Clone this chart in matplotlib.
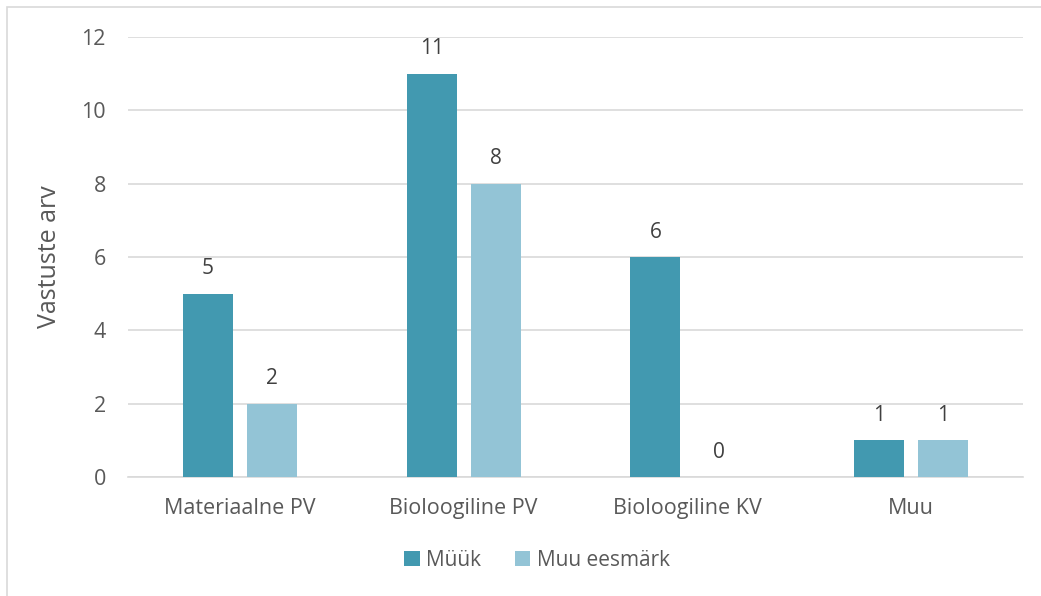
import matplotlib
matplotlib.use("Agg")
import matplotlib.pyplot as plt
from matplotlib.patches import Rectangle
import numpy as np

categories = ["Materiaalne PV", "Bioloogiline PV", "Bioloogiline KV", "Muu"]
muuk = [5, 11, 6, 1]
muu_eesmark = [2, 8, 0, 1]
series_names = ["Müük", "Muu eesmärk"]
y_ticks = [0, 2, 4, 6, 8, 10, 12]

plt.rcParams["font.family"] = ["Open Sans", "DejaVu Sans"]
TEXT = "#595959"
VALUE = "#404040"
GRID = "#D9D9D9"
C1 = "#4299B0"
C2 = "#93C4D6"

W, H = 1041, 596
fig = plt.figure(figsize=(W / 100, H / 100), dpi=100)

# thin frame around the chart area
fig.patches.append(Rectangle((7 / W, -0.1), 1.2, 1 - 7 / H + 0.1,
                             transform=fig.transFigure, fill=False,
                             edgecolor=GRID, linewidth=1.2))

ax = fig.add_axes([128 / W, 1 - 477 / H, (1023 - 128) / W, (477 - 37) / H])

x = np.arange(len(categories))
bw = 0.223
off = 0.143
b1 = ax.bar(x - off, muuk, bw, color=C1, label=series_names[0], zorder=3)
b2 = ax.bar(x + off, muu_eesmark, bw, color=C2, label=series_names[1], zorder=3)

for bars, vals in ((b1, muuk), (b2, muu_eesmark)):
    for rect, v in zip(bars, vals):
        ax.annotate(str(v), (rect.get_x() + rect.get_width() / 2, v),
                    xytext=(0, 18), textcoords="offset points",
                    ha="center", va="center", fontsize=15, color=VALUE)

ax.set_xlim(-0.5, len(categories) - 0.5)
ax.set_ylim(0, 12)
ax.set_yticks(y_ticks)
ax.set_xticks(x)
ax.set_xticklabels(categories)
ax.tick_params(axis="both", length=0, labelsize=15.5, colors=TEXT)
ax.tick_params(axis="y", pad=16)
ax.tick_params(axis="x", pad=15)
ax.yaxis.grid(True, color=GRID, linewidth=1.2, zorder=0)
ax.set_axisbelow(True)
for s in ("top", "right", "left"):
    ax.spines[s].set_visible(False)
ax.spines["bottom"].set_color(GRID)
ax.spines["bottom"].set_linewidth(1.2)

ax.set_ylabel("Vastuste arv", fontsize=18, color=TEXT, labelpad=14)

leg = fig.legend(handles=[b1, b2], loc="center", bbox_to_anchor=(537 / W, 1 - 560 / H),
                 ncol=2, frameon=False, fontsize=15, handlelength=0.75,
                 handleheight=0.75, handletextpad=0.3, columnspacing=1.6)
for t in leg.get_texts():
    t.set_color(TEXT)

fig.savefig("out.png", dpi=100)
